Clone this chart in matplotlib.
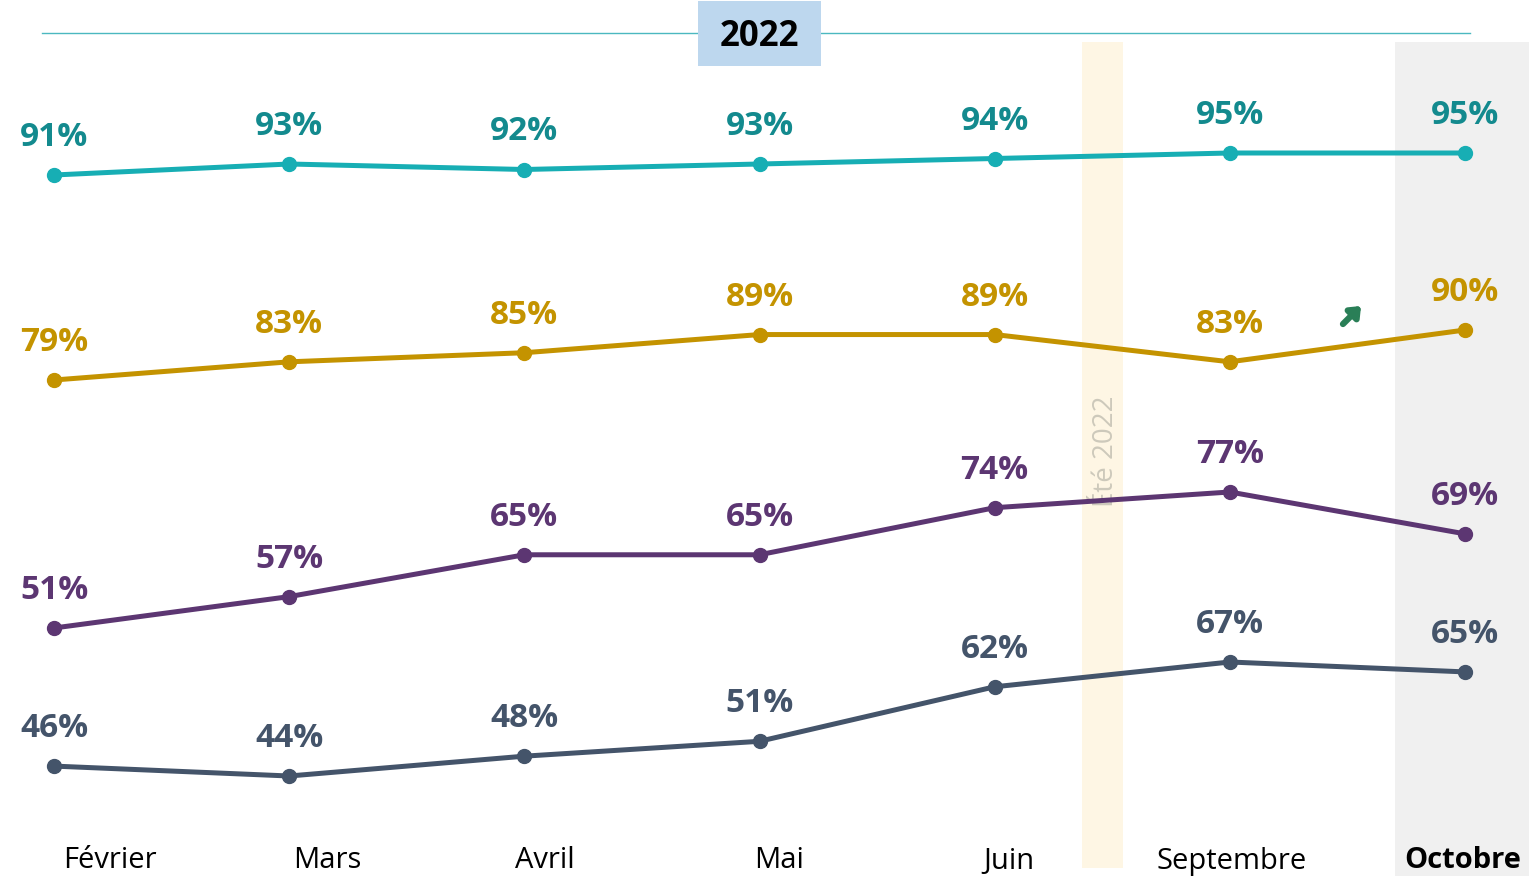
import matplotlib.pyplot as plt
from matplotlib.patches import Rectangle

# monthly scores, 2022 - four indicators each on its own band
months = ["Février", "Mars", "Avril", "Mai", "Juin", "Septembre", "Octobre"]
teal   = [91, 93, 92, 93, 94, 95, 95]
gold   = [79, 83, 85, 89, 89, 83, 90]
purple = [51, 57, 65, 65, 74, 77, 69]
slate  = [46, 44, 48, 51, 62, 67, 65]

W, H, DPI = 1529, 876, 100
FONT = "Open Sans"

fig = plt.figure(figsize=(W / DPI, H / DPI), dpi=DPI)

# background layer in pixel coords
bg = fig.add_axes([0, 0, 1, 1])
bg.set_xlim(0, W)
bg.set_ylim(H, 0)
bg.axis("off")
bg.add_patch(Rectangle((1395, 42), 134, 834, color="#f0f0f0", lw=0))
bg.add_patch(Rectangle((1082, 42), 41, 826, color="#fef6e4", lw=0))
bg.plot([42, 1470], [33, 33], color="#4bb8c0", lw=1)
bg.add_patch(Rectangle((698, 1), 123, 65, color="#bdd7ee", lw=0, zorder=3))
bg.text(759, 37, "2022", ha="center", va="center", fontsize=25,
        fontweight="bold", family=FONT, color="black", zorder=4)
bg.text(1106, 451, "Été 2022", rotation=90, ha="center", va="center",
        fontsize=20, family=FONT, color="#cdc9bb")

# month labels (sit a bit off the points in the original)
label_x = [110, 327, 545, 779, 1009, 1232, 1463]
for i, m in enumerate(months):
    bold = m == "Octobre"
    bg.text(label_x[i], 861, m, ha="center", va="center", fontsize=21,
            family=FONT, fontweight="bold" if bold else "normal", color="black")

# green "up" arrow next to the Octobre gold value
bg.annotate("", xy=(1363, 304), xytext=(1341, 326),
            arrowprops=dict(arrowstyle="-|>,head_width=0.45,head_length=0.55",
                            color="#2a7f57", lw=4.5))

# x mapping: index 0 -> px 54, index 6 -> px 1465
step = (1465 - 54) / 6
xl = (-54 / step, 6 + (W - 1465) / step)


def band_ylim(v1, p1, v2, p2):
    # ylim so that value v1 sits at pixel row p1 and v2 at p2
    b = (p1 - p2) / (v2 - v1)
    top = v1 + p1 / b
    return top - H / b, top


series = [
    (teal,   "#17aeb4", "#138a8e", (91, 175, 95, 153)),
    (gold,   "#c49300", "#c49300", (79, 380, 90, 330)),
    (purple, "#5c3672", "#5c3672", (51, 628, 77, 492)),
    (slate,  "#44546a", "#44546a", (44, 776, 67, 662)),
]

x = list(range(len(months)))
for vals, lc, tc, anch in series:
    ax = fig.add_axes([0, 0, 1, 1], zorder=2)
    ax.patch.set_alpha(0)
    ax.axis("off")
    ax.set_xlim(*xl)
    ax.set_ylim(*band_ylim(*anch))
    ax.plot(x, vals, color=lc, lw=3.6, marker="o", ms=10, solid_joinstyle="round")
    for xi, v in zip(x, vals):
        ax.annotate(f"{v}%", (xi, v), xytext=(0, 27), textcoords="offset points",
                    ha="center", va="center", fontsize=24, fontweight="bold",
                    family=FONT, color=tc)

fig.savefig("out.png", dpi=DPI)
